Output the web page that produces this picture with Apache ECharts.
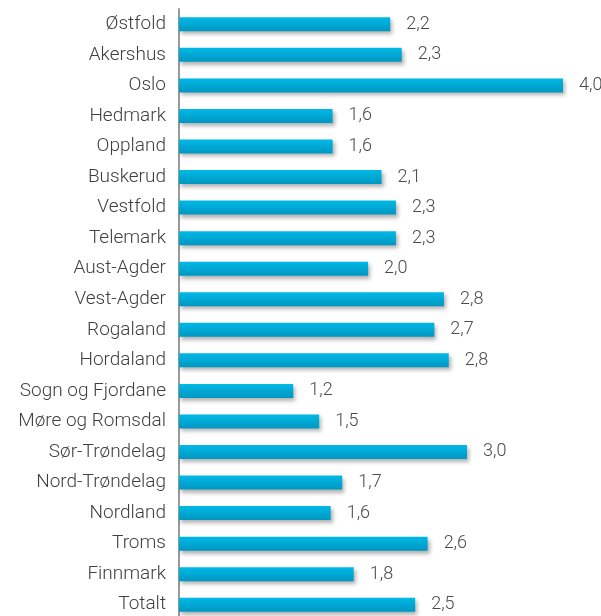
<!DOCTYPE html>
<html>
<head>
<meta charset="utf-8">
<script src="https://cdn.jsdelivr.net/npm/echarts@6/dist/echarts.min.js"></script>
<style>
  html, body { margin: 0; padding: 0; background: #fff; }
  #chart { width: 601px; height: 616px; }
</style>
</head>
<body>
<div id="chart"></div>
<script>
const fylker = ['Østfold', 'Akershus', 'Oslo', 'Hedmark', 'Oppland', 'Buskerud', 'Vestfold',
  'Telemark', 'Aust-Agder', 'Vest-Agder', 'Rogaland', 'Hordaland', 'Sogn og Fjordane',
  'Møre og Romsdal', 'Sør-Trøndelag', 'Nord-Trøndelag', 'Nordland', 'Troms', 'Finnmark', 'Totalt']
const verdier = [2.2, 2.32, 4.0, 1.6, 1.6, 2.11, 2.26, 2.26, 1.97, 2.76, 2.66, 2.81, 1.19,
  1.46, 3.0, 1.7, 1.58, 2.59, 1.82, 2.46]

let chart = echarts.init(document.getElementById('chart'))

option = {
  animation: false,
  grid: { left: 179, right: 38, top: 9, height: 611, outerBoundsMode: 'none', containLabel: false },
  xAxis: {
    type: 'value',
    min: 0,
    max: 4,
    show: false
  },
  yAxis: {
    type: 'category',
    data: fylker,
    inverse: true,
    axisLine: { show: true, lineStyle: { color: '#9a9a9a', width: 2 } },
    axisTick: { show: false },
    axisLabel: {
      margin: 13,
      fontSize: 19,
      fontWeight: 300,
      color: '#404040',
      fontFamily: 'Roboto'
    }
  },
  series: [
    {
      type: 'bar',
      data: verdier,
      barWidth: 14,
      itemStyle: {
        color: new echarts.graphic.LinearGradient(0, 0, 0, 1, [
          { offset: 0, color: '#00b9e6' },
          { offset: 1, color: '#0097c2' }
        ]),
        shadowBlur: 4,
        shadowOffsetX: 2,
        shadowOffsetY: 3,
        shadowColor: 'rgba(0,0,0,0.3)'
      },
      label: {
        show: true,
        position: 'right',
        distance: 16,
        fontSize: 18,
        fontWeight: 300,
        color: '#4a4a4a',
        fontFamily: 'Roboto',
        formatter: p => p.value.toFixed(1).replace('.', ',')
      }
    }
  ]
}
chart.setOption(option)
</script>
</body>
</html>
